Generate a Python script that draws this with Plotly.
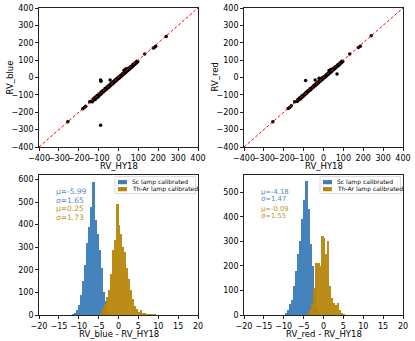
import plotly.graph_objects as go

# scatter data: RV_HY18 vs RV_blue / RV_red
cloud_x = [-132, -126, -121, -117, -112, -108, -103, -99, -94, -90, -86, -81, -77, -72, -68, -63,
           -59, -55, -50, -46, -41, -37, -33, -28, -24, -19, -15, -10, -6, -2, 3, 7, 12, 16, 21,
           25, 30, 34, 38, 43, 47, 52, 56, 61, 65, 70, 74, 79, 83, 88, 92, 97,
           -128, -118, -108, -98, -88, -78, -68, -58, -48, -38, -28, -18, -8, 2, 12, 22, 32, 42,
           52, 62, 72, 82, 92, 28, 35, 40]
cloud_blue = [-140, -131, -125, -126, -118, -113, -112, -103, -101, -95, -94, -85, -84, -76, -75,
              -67, -66, -59, -57, -50, -48, -41, -40, -32, -31, -23, -22, -14, -13, -6, -4, 1, 5,
              10, 14, 19, 23, 28, 31, 37, 40, 46, 49, 55, 58, 64, 67, 73, 77, 82, 86, 91,
              -124, -114, -104, -95, -84, -75, -64, -55, -44, -35, -25, -14, -5, 5, 15, 25, 35,
              44, 55, 64, 75, 84, 94, 42, 48, 50]
cloud_red = [-138, -130, -124, -124, -116, -112, -110, -102, -99, -94, -92, -84, -82, -75, -73,
             -66, -64, -58, -55, -49, -46, -40, -38, -31, -29, -22, -20, -13, -11, -5, -2, 2, 7,
             11, 16, 20, 25, 29, 33, 38, 42, 47, 51, 56, 60, 65, 69, 74, 78, 83, 88, 92,
             -125, -115, -105, -96, -85, -76, -65, -56, -45, -36, -26, -15, -6, 4, 14, 24, 34,
             43, 54, 63, 74, 83, 93, 40, 44, 47]

out_blue_x = [-255, -180, -172, -165, -145, -140, -90, -88, -42, -90, 132, 175, 180, 187, 240]
out_blue_y = [-255, -180, -172, -165, -140, -138, -15, -22, -15, -275, 135, 170, 173, 180, 236]
out_red_x = [-255, -178, -170, -162, -145, -90, -42, -22, -8, 68, 132, 175, 185, 240]
out_red_y = [-255, -178, -172, -162, -140, -17, -15, -5, -3, 20, 135, 172, 180, 240]

one_to_one = [-400, 400]

# histogram counts, bin width 0.5, first bin starts at -12
bin_start = -12.0
bin_width = 0.5
hist_blue_sc = [0, 3, 8, 20, 45, 90, 150, 220, 320, 390, 480, 590, 420, 360, 290, 210, 100, 60, 15, 5]
hist_blue_thar = [0, 0, 0, 0, 0, 0, 0, 0, 0, 0, 0, 0, 0, 0, 0, 10, 30, 50, 80, 110, 180, 290, 330,
                  490, 400, 360, 300, 280, 210, 160, 110, 70, 40, 25, 15, 20, 8, 5, 4, 3, 2, 3, 1]
hist_red_sc = [0, 0, 0, 0, 0, 8, 20, 45, 60, 120, 180, 250, 300, 390, 470, 545, 430, 290, 200, 100, 30, 8]
hist_red_thar = [0, 0, 0, 0, 0, 0, 0, 0, 0, 0, 0, 0, 0, 0, 0, 0, 5, 20, 50, 110, 210, 210, 200,
                 320, 315, 250, 300, 120, 70, 50, 40, 50, 20, 10, 3]

stats_blue = ["μ=-5.99", "σ=1.65", "μ=0.25", "σ=1.73"]
stats_red = ["μ=-4.18", "σ=1.47", "μ=-0.09", "σ=1.55"]
legend_names = ["Sc lamp calibrated", "Th-Ar lamp calibrated"]

BLUE = "#3b7db8"
GOLD = "#b8860b"
TXT_BLUE = "#4f8ac4"
TXT_GOLD = "#c09018"


def centers(counts):
    return [bin_start + bin_width * (i + 0.5) for i in range(len(counts))]


fig = go.Figure()

# scatter panels
for ax, cy, ox, oy in [("", cloud_blue, out_blue_x, out_blue_y), ("2", cloud_red, out_red_x, out_red_y)]:
    fig.add_trace(go.Scatter(x=cloud_x + ox, y=cy + oy, mode="markers",
                             marker=dict(color="black", size=3.5), showlegend=False,
                             xaxis="x" + ax, yaxis="y" + ax))
    fig.add_trace(go.Scatter(x=one_to_one, y=one_to_one, mode="lines",
                             line=dict(color="red", width=1, dash="3px,2px"), showlegend=False,
                             xaxis="x" + ax, yaxis="y" + ax))

# histogram panels
for ax, sc, th in [("3", hist_blue_sc, hist_blue_thar), ("4", hist_red_sc, hist_red_thar)]:
    fig.add_trace(go.Bar(x=centers(sc), y=sc, width=bin_width, marker=dict(color=BLUE, line=dict(width=0)),
                         opacity=0.95, name=legend_names[0], showlegend=False,
                         xaxis="x" + ax, yaxis="y" + ax))
    fig.add_trace(go.Bar(x=centers(th), y=th, width=bin_width, marker=dict(color=GOLD, line=dict(width=0)),
                         opacity=0.95, name=legend_names[1], showlegend=False,
                         xaxis="x" + ax, yaxis="y" + ax))

axis_common = dict(showgrid=False, zeroline=False, showline=True, linecolor="#222", linewidth=0.8,
                   mirror=True, ticks="outside", ticklen=3, tickcolor="#222", automargin=False,
                   tickangle=0, tickfont=dict(size=8, color="black"))
title_font = dict(size=8.5, color="black")

xl = [39 / 415, 198 / 415]
xr = [244 / 415, 403 / 415]
yt = [1 - 147 / 341, 1 - 8 / 341]
yb = [1 - 315 / 341, 1 - 175 / 341]

fig.update_layout(
    width=415, height=341, margin=dict(l=0, r=0, t=0, b=0, autoexpand=False),
    paper_bgcolor="white", plot_bgcolor="white", barmode="overlay", bargap=0,
    font=dict(family="DejaVu Sans", color="black"), showlegend=False,
    xaxis=dict(domain=xl, anchor="y", range=[-400, 400], dtick=100, **axis_common),
    yaxis=dict(domain=yt, anchor="x", range=[-400, 400], dtick=100, **axis_common),
    xaxis2=dict(domain=xr, anchor="y2", range=[-400, 400], dtick=100, **axis_common),
    yaxis2=dict(domain=yt, anchor="x2", range=[-400, 400], dtick=100, **axis_common),
    xaxis3=dict(domain=xl, anchor="y3", range=[-20, 20], dtick=5, **axis_common),
    yaxis3=dict(domain=yb, anchor="x3", range=[0, 620], dtick=100, **axis_common),
    xaxis4=dict(domain=xr, anchor="y4", range=[-20, 20], dtick=5, **axis_common),
    yaxis4=dict(domain=yb, anchor="x4", range=[0, 570], dtick=100, **axis_common),
)

# axis titles
for txt, x, y, ang in [("RV_HY18", (xl[0] + xl[1]) / 2, 1 - 166 / 341, 0),
                       ("RV_HY18", (xr[0] + xr[1]) / 2, 1 - 166 / 341, 0),
                       ("RV_blue - RV_HY18", (xl[0] + xl[1]) / 2, 1 - 334 / 341, 0),
                       ("RV_red - RV_HY18", (xr[0] + xr[1]) / 2, 1 - 334 / 341, 0),
                       ("RV_blue", 9 / 415, (yt[0] + yt[1]) / 2, -90),
                       ("RV_red", 214 / 415, (yt[0] + yt[1]) / 2, -90)]:
    fig.add_annotation(text=txt, xref="paper", yref="paper", x=x, y=y, textangle=ang,
                       xanchor="center", yanchor="middle", showarrow=False, font=title_font)

# legends drawn by hand inside each histogram panel
for ax in ["3", "4"]:
    xd, yd = "x" + ax + " domain", "y" + ax + " domain"
    fig.add_shape(type="rect", xref=xd, yref=yd, x0=0.478, x1=0.985, y0=0.868, y1=0.99,
                  line=dict(color="#d0d0d0", width=0.8), fillcolor="rgba(255,255,255,0.85)")
    for k, (col, yc) in enumerate([(BLUE, 0.949), (GOLD, 0.899)]):
        fig.add_shape(type="rect", xref=xd, yref=yd, x0=0.497, x1=0.553, y0=yc - 0.015, y1=yc + 0.015,
                      line=dict(width=0), fillcolor=col)
        fig.add_annotation(text=legend_names[k], xref=xd, yref=yd, x=0.572, y=yc,
                           xanchor="left", yanchor="middle", showarrow=False,
                           font=dict(size=6, color="black"))

# mean / sigma labels
for i, txt in enumerate(stats_blue):
    fig.add_annotation(text=txt, xref="x3", yref="y3 domain", x=-16.3, y=[0.88, 0.82, 0.76, 0.70][i],
                       xanchor="left", yanchor="middle", showarrow=False,
                       font=dict(size=7.5, color=TXT_BLUE if i < 2 else TXT_GOLD))
for i, txt in enumerate(stats_red):
    fig.add_annotation(text=txt, xref="x4", yref="y4 domain", x=-16.3, y=[0.88, 0.83, 0.76, 0.71][i],
                       xanchor="left", yanchor="middle", showarrow=False,
                       font=dict(size=6.8, color=TXT_BLUE if i < 2 else TXT_GOLD))

# the page body has a default 8px margin; remove it so the figure sits at the corner
fig.write_html("out.html", config={"displayModeBar": False},
               post_script="document.body.style.margin='0';")
